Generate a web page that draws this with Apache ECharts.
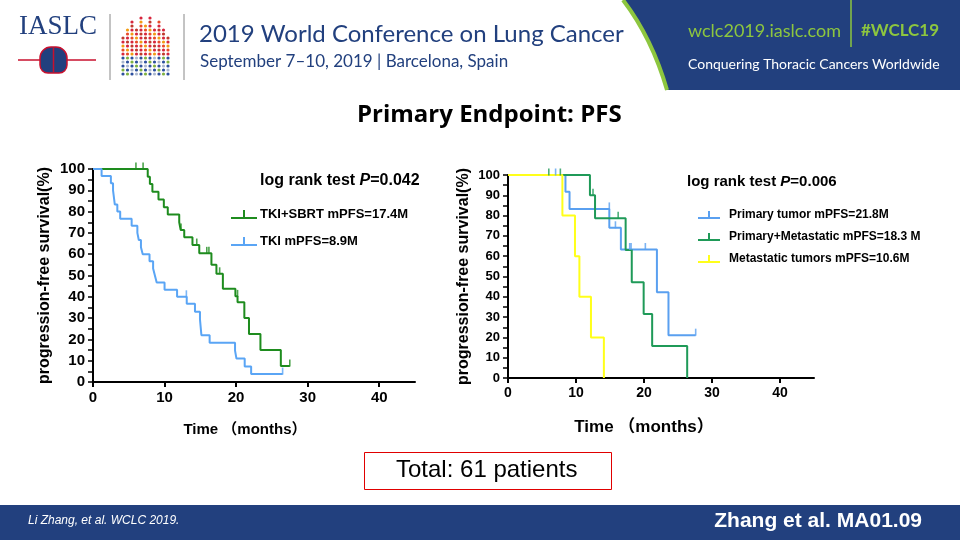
<!DOCTYPE html>
<html>
<head>
<meta charset="utf-8">
<script src="https://cdn.jsdelivr.net/npm/echarts@6/dist/echarts.min.js"></script>
<style>
  html, body { margin: 0; padding: 0; background: #fff; }
  #main { width: 960px; height: 540px; }
</style>
</head>
<body>
<div id="main"></div>
<script>
// left chart: TKI+SBRT vs TKI, [months, survival %] after each event
const tkiSbrtPfs = [[0,100],[7.65,96.4],[7.95,92.9],[8.3,89.3],[9.15,85.7],[9.9,82.1],[10.45,78.6],[12.05,75],[12.25,71.4],[12.75,67.9],[13.9,64.3],[14.85,60.4],[16.55,55],[17.25,50.8],[18.15,43.8],[19.9,40.2],[20.2,37.5],[21.15,30],[21.8,22.5],[23.4,15],[26.25,7.5],[27.5,7.5]];
const tkiSbrtCensor = [[6.0,100],[7.0,100],[12.3,71.4],[14.5,64.3],[15.9,60.4],[16.2,60.4],[17.7,50.8],[20.2,40.2],[27.5,7.5]];
const tkiPfs = [[0,100],[1.2,96.7],[2.5,93.3],[2.8,90],[3.05,83.3],[3.4,80],[3.8,76.7],[5.4,73.3],[6.2,70],[6.4,66.7],[6.7,63.3],[6.95,60],[7.9,56.7],[8.4,53.3],[8.65,50],[8.9,46.7],[10.0,43.3],[11.75,40],[13.1,36.7],[14.25,33],[14.95,29.4],[15.15,22],[16.3,18.4],[19.85,14.7],[20.05,11],[21.2,7.3],[22.1,3.7],[26.5,3.7]];
const tkiCensor = [[13.05,40],[26.5,3.7]];

// right chart: by irradiated site
const primaryTumorPfs = [[0,100],[8.45,91.7],[9.05,83.3],[14.9,74],[16.6,63.3],[21.9,42.2],[23.6,21.1],[27.6,21.1]];
const primaryTumorCensor = [[7.0,100],[14.9,83.3],[15.8,74],[17.9,63.3],[18.1,63.3],[20.2,63.3],[27.6,21.1]];
const primaryMetPfs = [[0,100],[12.05,90],[12.8,78.7],[17.3,63],[18.2,47.2],[19.95,31.5],[21.2,15.8],[26.35,0]];
const primaryMetCensor = [[6.0,100],[7.7,100],[12.5,90],[16.2,78.7]];
const metastaticPfs = [[0,100],[8.0,80],[9.85,60],[10.5,40],[12.2,20],[14.1,0]];

const leftNames = ["TKI+SBRT mPFS=17.4M", "TKI mPFS=8.9M"];
const rightNames = ["Primary tumor mPFS=21.8M", "Primary+Metastatic mPFS=18.3 M", "Metastatic tumors mPFS=10.6M"];

const NAVY = "#22407e";
const LIME = "#8dc63f";
const FONT = 'Arial, "Liberation Sans", "Noto Sans CJK SC", sans-serif';

const chart = echarts.init(document.getElementById("main"));

function kmLine(name, data, color, grid) {
  return {
    name: name, type: "line", step: "end", data: data,
    xAxisIndex: grid, yAxisIndex: grid,
    symbol: "none", lineStyle: { color: color, width: 2 },
    itemStyle: { color: color }, animation: false, z: 3
  };
}
function censor(data, color, grid) {
  return {
    type: "scatter", data: data, xAxisIndex: grid, yAxisIndex: grid,
    symbol: "rect", symbolSize: [1.6, 7], symbolOffset: [0, -3],
    itemStyle: { color: color }, animation: false, silent: true, z: 4
  };
}

function xAxis(grid, size, nameSize, gap, shift) {
  return {
    gridIndex: grid, type: "value", min: 0, max: 45, interval: 10,
    name: "Time （months）", nameLocation: "middle", nameGap: gap,
    nameTextStyle: { fontFamily: FONT, fontWeight: "bold", fontSize: nameSize, color: "#000", padding: [0, shift, 0, 0] },
    axisLine: { lineStyle: { color: "#000", width: 2 } },
    axisTick: { length: 5, lineStyle: { color: "#000", width: 2 } },
    axisLabel: { fontFamily: FONT, fontWeight: "bold", fontSize: size, color: "#000", margin: 8, showMaxLabel: false },
    splitLine: { show: false }
  };
}
function yAxis(grid, size, gap) {
  return {
    gridIndex: grid, type: "value", min: 0, max: 100, interval: 10,
    name: "progression-free survival(%)", nameLocation: "middle", nameGap: gap, nameRotate: 90,
    nameTextStyle: { fontFamily: FONT, fontWeight: "bold", fontSize: 16, color: "#000" },
    axisLine: { show: true, lineStyle: { color: "#000", width: 2 } },
    axisTick: { show: true, length: 5, lineStyle: { color: "#000", width: 1.5 } },
    minorTick: { show: true, splitNumber: 2, length: 5, lineStyle: { color: "#000", width: 1.5 } },
    axisLabel: { fontFamily: FONT, fontWeight: "bold", fontSize: size, color: "#000", margin: 8 },
    splitLine: { show: false }
  };
}

// little dotted cathedral for the header logo
const spires = [24, 16, 8, 16, 1, 12, 1, 16, 8, 16, 24];
const dotColors = ["#d7263d", "#e84a27", "#f39c12", "#d7263d", "#c0392b", "#2c4f9e", "#7fb241", "#2c4f9e", "#aab7cf"];
const logoDots = [];
spires.forEach(function (top, c) {
  for (let y = 74; y >= 14 + top; y -= 4) {
    const row = Math.floor((74 - y) / 4);
    const col = row < 5 ? dotColors[5 + (c + row) % 4] : dotColors[(c + row) % 5];
    logoDots.push({ type: "circle", shape: { cx: 123 + c * 4.5, cy: y, r: 1.6 }, style: { fill: col }, silent: true });
  }
});

chart.setOption({
  backgroundColor: "#fff",
  textStyle: { fontFamily: FONT },
  grid: [
    { left: 93, top: 169, width: 322, height: 213 },
    { left: 508, top: 175, width: 306, height: 203 }
  ],
  xAxis: [xAxis(0, 15, 15, 40, 18), xAxis(1, 14, 17, 41, 34)],
  yAxis: [yAxis(0, 15, 40), yAxis(1, 13, 36)],
  legend: [
    {
      left: 226, top: 203, orient: "vertical", itemGap: 14, itemWidth: 26, itemHeight: 9,
      data: leftNames.map(function (n) { return { name: n, icon: "path://M0,7 L26,7 L26,9 L0,9 Z M12,0 L14,0 L14,7 L12,7 Z" }; }),
      textStyle: { fontFamily: FONT, fontWeight: "bold", fontSize: 13, color: "#000", padding: [0, 0, 0, -2] }
    },
    {
      left: 693, top: 204, orient: "vertical", itemGap: 10, itemWidth: 22, itemHeight: 8,
      data: rightNames.map(function (n) { return { name: n, icon: "path://M0,6 L22,6 L22,8 L0,8 Z M10,0 L12,0 L12,6 L10,6 Z" }; }),
      textStyle: { fontFamily: FONT, fontWeight: "bold", fontSize: 12, color: "#000", padding: [0, 0, 0, 4] }
    }
  ],
  series: [
    kmLine(leftNames[0], tkiSbrtPfs, "#1e8c1e", 0),
    kmLine(leftNames[1], tkiPfs, "#5aa5f5", 0),
    censor(tkiSbrtCensor, "#1e8c1e", 0),
    censor(tkiCensor, "#5aa5f5", 0),
    kmLine(rightNames[0], primaryTumorPfs, "#5aa0f0", 1),
    kmLine(rightNames[1], primaryMetPfs, "#1f9a58", 1),
    kmLine(rightNames[2], metastaticPfs, "#ffff1a", 1),
    censor(primaryTumorCensor, "#5aa0f0", 1),
    censor(primaryMetCensor, "#1f9a58", 1)
  ],
  graphic: [
    // header band
    { type: "polygon", shape: { points: [[623,0],[636.7,20],[648.8,42],[659.2,66],[667,90],[960,90],[960,0]] }, style: { fill: NAVY }, silent: true },
    { type: "bezierCurve", shape: { x1: 623, y1: 0, cpx1: 652, cpy1: 38, x2: 667, y2: 90 }, style: { fill: null, stroke: LIME, lineWidth: 4 }, silent: true },
    { type: "text", left: 688, top: 22, style: { text: "wclc2019.iaslc.com", fill: LIME, font: '18px Lato, "Open Sans", sans-serif' } },
    { type: "line", shape: { x1: 851, y1: 0, x2: 851, y2: 47 }, style: { stroke: LIME, lineWidth: 1.5 } },
    { type: "text", left: 861, top: 22, style: { text: "#WCLC19", fill: LIME, font: 'bold 17px Lato, "Open Sans", sans-serif' } },
    { type: "text", left: 688, top: 57, style: { text: "Conquering Thoracic Cancers Worldwide", fill: "#fff", font: '14px Lato, "Open Sans", sans-serif' } },
    { type: "text", left: 19, top: 13, style: { text: "IASLC", fill: NAVY, font: '27px "Liberation Serif", "DejaVu Serif", serif' } },
    { type: "line", shape: { x1: 18, y1: 60, x2: 96, y2: 60 }, style: { stroke: "#c8102e", lineWidth: 1.5 } },
    { type: "rect", shape: { x: 40, y: 47, width: 27, height: 26, r: [11, 11, 8, 8] }, style: { fill: NAVY, stroke: "#c8102e", lineWidth: 1.5 } },
    { type: "line", shape: { x1: 53.5, y1: 48, x2: 53.5, y2: 72 }, style: { stroke: "#c8102e", lineWidth: 1.5 } },
    { type: "line", shape: { x1: 110, y1: 14, x2: 110, y2: 80 }, style: { stroke: "#888", lineWidth: 1 } },
    { type: "line", shape: { x1: 184, y1: 14, x2: 184, y2: 80 }, style: { stroke: "#888", lineWidth: 1 } },
    { type: "group", children: logoDots },
    { type: "text", left: 199, top: 22, style: { text: "2019 World Conference on Lung Cancer", fill: NAVY, font: '24px Lato, "Open Sans", sans-serif' } },
    { type: "text", left: 200, top: 53, style: { text: "September 7–10, 2019 | Barcelona, Spain", fill: NAVY, font: '17px Lato, "Open Sans", sans-serif' } },
    // slide title
    { type: "text", left: 357, top: 103, style: { text: "Primary Endpoint: PFS", fill: "#000", font: 'bold 24px "Open Sans", Lato, sans-serif' } },
    // p values
    {
      type: "text", left: 260, top: 173,
      style: { text: "log rank test {i|P}=0.042", fill: "#000", font: "bold 16px " + FONT,
        rich: { i: { fontStyle: "italic", fontWeight: "bold", fontSize: 16, fontFamily: FONT } } }
    },
    {
      type: "text", left: 687, top: 174,
      style: { text: "log rank test {i|P}=0.006", fill: "#000", font: "bold 15px " + FONT,
        rich: { i: { fontStyle: "italic", fontWeight: "bold", fontSize: 15, fontFamily: FONT } } }
    },
    // total box
    { type: "rect", shape: { x: 364.5, y: 452.5, width: 247, height: 37 }, style: { fill: "#fff", stroke: "#e00000", lineWidth: 1 } },
    { type: "text", left: 396, top: 458, style: { text: "Total: 61 patients", fill: "#000", font: '24px "Liberation Sans Narrow", Arial, sans-serif' } },
    // footer band
    { type: "rect", shape: { x: 0, y: 505, width: 960, height: 35 }, style: { fill: NAVY }, silent: true },
    { type: "text", left: 28, top: 515, style: { text: "Li Zhang, et al. WCLC 2019.", fill: "#fff", font: 'italic 12px "Liberation Sans Narrow", Arial, sans-serif' } },
    { type: "text", right: 38, top: 511, style: { text: "Zhang et al. MA01.09", fill: "#fff", font: 'bold 21px "Liberation Sans Narrow", Arial, sans-serif' } }
  ]
});
</script>
</body>
</html>
